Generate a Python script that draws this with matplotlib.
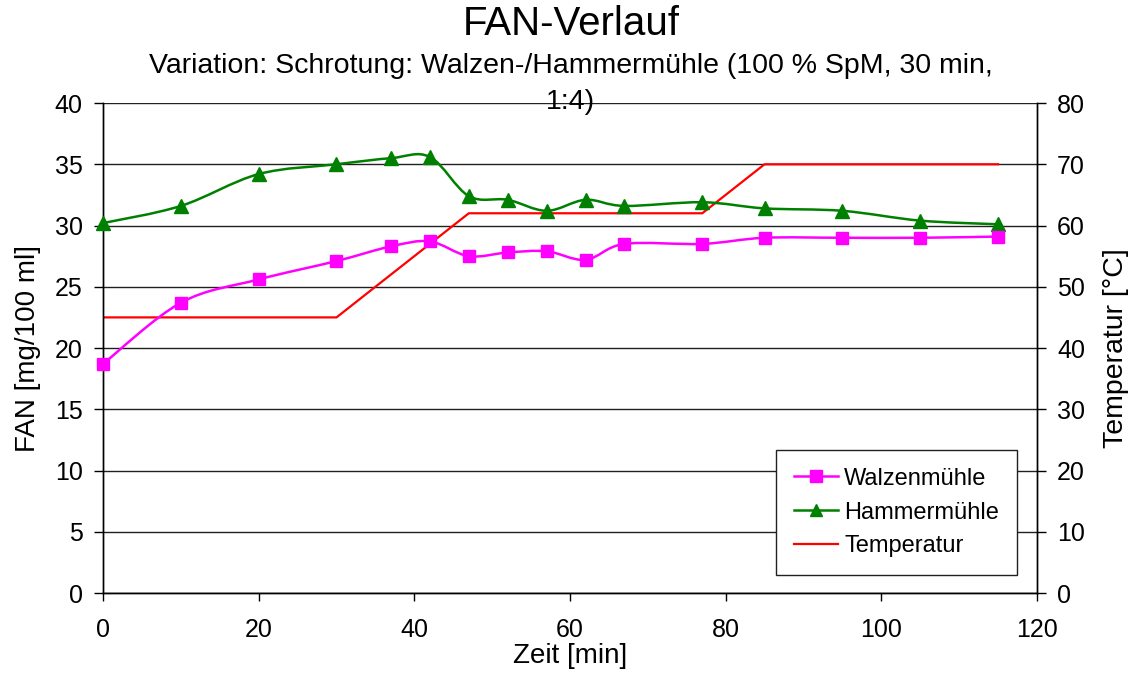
import matplotlib.pyplot as plt
from matplotlib.path import Path
from matplotlib.patches import PathPatch
from matplotlib.lines import Line2D
import numpy as np

plt.rcParams["font.family"] = ["Liberation Sans", "DejaVu Sans"]

# FAN values over mashing time
zeit = [0, 10, 20, 30, 37, 42, 47, 52, 57, 62, 67, 77, 85, 95, 105, 115]
walzenmuehle = [18.7, 23.7, 25.6, 27.1, 28.3, 28.7, 27.5, 27.8, 27.9, 27.2,
                28.5, 28.5, 29.0, 29.0, 29.0, 29.1]
hammermuehle = [30.2, 31.6, 34.2, 35.0, 35.5, 35.6, 32.4, 32.1, 31.2, 32.1,
                31.6, 31.9, 31.4, 31.2, 30.4, 30.1]

# mashing temperature profile
temp_zeit = [0, 30, 47, 77, 85, 115]
temperatur = [45, 45, 62, 62, 70, 70]


def smooth_path(x, y, tension=1 / 6):
    # cubic Bezier segments through every point (spreadsheet-style smoothed line)
    pts = np.column_stack([x, y]).astype(float)
    verts = [pts[0]]
    codes = [Path.MOVETO]
    n = len(pts)
    for i in range(n - 1):
        p0 = pts[max(i - 1, 0)]
        p1 = pts[i]
        p2 = pts[i + 1]
        p3 = pts[min(i + 2, n - 1)]
        c1 = p1 + (p2 - p0) * tension
        c2 = p2 - (p3 - p1) * tension
        verts += [c1, c2, p2]
        codes += [Path.CURVE4] * 3
    return Path(verts, codes)


fig = plt.figure(figsize=(11.37, 6.8), dpi=100)
ax = fig.add_axes([0.0906, 0.1279, 0.8214, 0.7206])
ax2 = ax.twinx()

ax.set_xlim(0, 120)
ax.set_ylim(0, 40)
ax2.set_ylim(0, 80)
ax.set_xticks(range(0, 121, 20))
ax.set_yticks(range(0, 41, 5))
ax2.set_yticks(range(0, 81, 10))

# grid lives on the secondary axis so the temperature line sits on top of it
ax2.yaxis.grid(True, color="#202020", linewidth=1, zorder=0)
ax2.set_axisbelow(True)

for a in (ax, ax2):
    a.spines["top"].set_visible(False)
    a.tick_params(axis="y", labelsize=18, direction="out", length=6.5, width=1, pad=8)
    for s in a.spines.values():
        s.set_linewidth(1)
ax.tick_params(axis="x", labelsize=18, direction="out", length=6, width=1, pad=12)

ax.patch.set_visible(False)
ax2.set_zorder(0)
ax.set_zorder(1)

ax2.plot(temp_zeit, temperatur, color="#ff0000", linewidth=1.6, zorder=2)

green = "#008000"
magenta = "#ff00ff"
ax.add_patch(PathPatch(smooth_path(zeit, hammermuehle), facecolor="none",
                       edgecolor=green, linewidth=1.8, zorder=3))
ax.plot(zeit, hammermuehle, linestyle="none", marker="^", markersize=10,
        color=green, zorder=4, clip_on=False)
ax.add_patch(PathPatch(smooth_path(zeit, walzenmuehle), facecolor="none",
                       edgecolor=magenta, linewidth=1.8, zorder=3))
ax.plot(zeit, walzenmuehle, linestyle="none", marker="s", markersize=8.5,
        color=magenta, zorder=4, clip_on=False)

ax.set_xlabel("Zeit [min]", fontsize=20, labelpad=1)
ax.set_ylabel("FAN [mg/100 ml]", fontsize=20, labelpad=10)
ax2.set_ylabel("Temperatur [°C]", fontsize=20.5, labelpad=13)

fig.text(0.502, 0.964, "FAN-Verlauf", ha="center", va="center", fontsize=29)
fig.text(0.502, 0.876, "Variation: Schrotung: Walzen-/Hammermühle (100 % SpM, 30 min,\n1:4)",
         ha="center", va="center", fontsize=20.5, linespacing=1.5)

handles = [
    Line2D([], [], color=magenta, marker="s", markersize=8, linewidth=1.8),
    Line2D([], [], color=green, marker="^", markersize=9, linewidth=1.8),
    Line2D([], [], color="#ff0000", linewidth=1.6),
]
leg = ax.legend(handles, ["Walzenmühle", "Hammermühle", "Temperatur"],
                loc="lower right", bbox_to_anchor=(0.9786, 0.0367), fontsize=17,
                frameon=True, fancybox=False, framealpha=1, edgecolor="#202020",
                handlelength=1.9, handletextpad=0.25, borderpad=0.75,
                labelspacing=0.5, borderaxespad=0)
leg.get_frame().set_linewidth(1)

fig.savefig("out.png", dpi=100)
